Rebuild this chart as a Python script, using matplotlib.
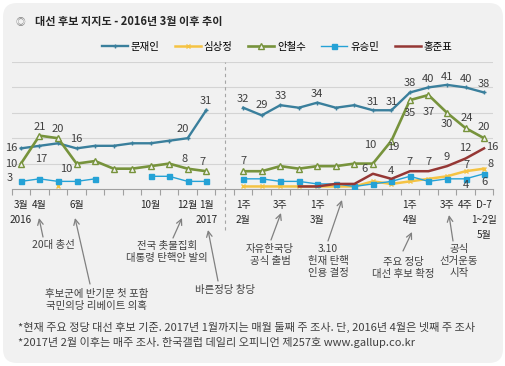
import numpy as np
import matplotlib
matplotlib.use("Agg")
import matplotlib.pyplot as plt
from matplotlib.patches import FancyBboxPatch
from matplotlib.transforms import IdentityTransform

plt.rcParams['font.family'] = ['Noto Sans CJK KR', 'DejaVu Sans']

W, H = 506, 366
nan = np.nan

# x index: 0-10 monthly (2016.3 ~ 2017.1), 11 = gap, 12-25 weekly (2017.2 1주 ~ 5월 1~2일)
moon = [16, 17, 18, 16, 17, 17, 18, 18, 19, 20, 31, nan,
        32, 29, 33, 32, 34, 32, 33, 31, 31, 38, 40, 41, 40, 38]
sim = [nan, nan, 1, nan, nan, nan, nan, nan, nan, nan, nan, nan,
       1, 1, 1, 1, 1, 1, 1, 3, 2, 3, 4, 5, 7, 8]
ahn = [10, 21, 20, 10, 11, 8, 8, 9, 10, 8, 7, nan,
       7, 7, 9, 8, 9, 9, 10, 10, 19, 35, 37, 30, 24, 20]
yoo = [3, 4, 3, 3, 4, nan, nan, 5, 5, 3, 3, nan,
       4, 4, 3, 3, 2, 2, 1, 2, 3, 5, 3, 4, 4, 6]
hong = [nan] * 15 + [1, 1, 2, 2, 6, 4, 7, 7, 9, 12, 16]

names = ["문재인", "심상정", "안철수", "유승민", "홍준표"]

row1 = {0: "3월", 1: "4월", 3: "6월", 7: "10월", 9: "12월", 10: "1월",
        12: "1주", 14: "3주", 16: "1주", 21: "1주", 23: "3주", 24: "4주", 25: "D-7"}
row2 = {0: "2016", 10: "2017", 12: "2월", 16: "3월", 21: "4월", 25: "1~2일"}
row3 = {25: "5월"}

# label offsets in pixels (dx, dy) for the values that carry a number
moon_lbl = {0: (-10, 0), 1: (2, -13), 3: (0, 9), 9: (-5, 9), 10: (0, 9),
            12: (0, 9), 13: (0, 10), 14: (0, 9), 16: (0, 9), 19: (0, 8),
            20: (0, 8), 21: (0, 9), 22: (0, 8), 23: (0, 8), 24: (0, 8), 25: (0, 8)}
ahn_lbl = {0: (-10, 0), 1: (0, 9), 2: (0, 9), 3: (-10, -5), 9: (-3, 10),
           10: (-4, 9), 12: (0, 10), 19: (-3, 19), 20: (2, -6), 21: (0, -13),
           22: (0, -17), 23: (0, -11), 24: (1, 10), 25: (0, 11)}
hong_lbl = {19: (-8, 5), 20: (0, 8), 21: (0, 9), 22: (0, 9), 23: (0, 9),
            24: (0, 11), 25: (8, 1)}
sim_lbl = {24: (1, 6), 25: (7, 5)}
yoo_lbl = {0: (-11, 3), 24: (0, -6), 25: (0, -8)}

c_moon, c_sim, c_ahn, c_yoo, c_hong = "#3a7f9c", "#f5c343", "#77933c", "#25a2d6", "#953735"
bg = "#f1f1f1"
txt = "#404040"

fig = plt.figure(figsize=(W / 100, H / 100), dpi=100, facecolor="white")
fig.add_artist(FancyBboxPatch((3, 3), 500, 360, boxstyle="round,pad=0,rounding_size=14",
                              transform=IdentityTransform(), facecolor=bg,
                              edgecolor="none", zorder=-10))

ax = fig.add_axes([11.7 / W, 1 - 189 / H, (493.3 - 11.7) / W, 127 / H])
ax.set_facecolor("none")
x = np.arange(len(moon))

l_moon, = ax.plot(x, moon, color=c_moon, lw=1.7, marker="+", ms=3.5, mew=1, zorder=3)
l_sim, = ax.plot(x, sim, color=c_sim, lw=1.8, marker="x", ms=3.5, mew=1, zorder=3)
l_yoo, = ax.plot(x, yoo, color=c_yoo, lw=1.0, marker="s", ms=3.6, zorder=4)
l_ahn, = ax.plot(x, ahn, color=c_ahn, lw=1.9, marker="^", ms=4.6, mfc=bg, mew=1, zorder=5)
l_hong, = ax.plot(x, hong, color=c_hong, lw=1.8, zorder=6)

for series, lbl in ((moon, moon_lbl), (ahn, ahn_lbl), (hong, hong_lbl),
                    (sim, sim_lbl), (yoo, yoo_lbl)):
    for i, (dx, dy) in lbl.items():
        ax.annotate(f"{series[i]:g}", (i, series[i]), xytext=(dx, dy),
                    textcoords="offset pixels", ha="center", va="center",
                    fontsize=8, color=txt, zorder=7)

ax.set_xlim(-0.5, len(moon) - 0.5)
ax.set_ylim(0, 50)
ax.set_yticks([10, 20, 30, 40, 50])
ax.set_yticklabels([])
ax.tick_params(axis="y", length=0)
ax.grid(axis="y", color="#d4d4d4", lw=0.8)
ax.set_xticks(np.arange(-0.5, len(moon), 1))
ax.set_xticklabels([])
ax.tick_params(axis="x", length=4, width=0.8, color="#a0a0a0", direction="out")
for s in ("top", "left", "right"):
    ax.spines[s].set_visible(False)
ax.spines["bottom"].set_color("#a0a0a0")
ax.axvline(11, ymin=-0.32, ymax=1, clip_on=False, ls=(0, (3, 3)), color="#a6a6a6", lw=0.8)

for row, dy in ((row1, -16), (row2, -31), (row3, -46)):
    for i, s in row.items():
        ax.annotate(s, (i, 0), xycoords=("data", "axes fraction"), xytext=(0, dy),
                    textcoords="offset pixels", ha="center", va="center",
                    fontsize=7.2, color="#262626")

# event annotations: text, text centre, arrow tail, arrow head (image pixels)
events = [
    ("20대 총선", (53, 245), (43, 237), (39, 218)),
    ("후보군에 반기문 첫 포함\n국민의당 리베이트 의혹", (97, 300), (90, 284), (75, 218)),
    ("전국 촛불집회\n대통령 탄핵안 발의", (167, 252), (173, 238), (182, 218)),
    ("바른정당 창당", (225, 290), (218, 281), (208, 230)),
    ("자유한국당\n공식 출범", (270, 255), (271, 240), (281, 213)),
    ("3.10\n헌재 탄핵\n인용 결정", (328, 261), (328, 241), (342, 200)),
    ("주요 정당\n대선 후보 확정", (403, 268), (403, 251), (412, 232)),
    ("공식\n선거운동\n시작", (459, 261), (453, 241), (449, 215)),
]
for s, (tx, ty), (ax0, ay0), (ax1, ay1) in events:
    fig.text(tx / W, 1 - ty / H, s, ha="center", va="center", fontsize=7.5,
             color=txt, linespacing=1.25)
    ax.annotate("", xy=(ax1, H - ay1), xytext=(ax0, H - ay0), xycoords="figure pixels",
                arrowprops=dict(arrowstyle="->", color="#808080", lw=0.9,
                                shrinkA=0, shrinkB=0))

fig.text(20 / W, 1 - 22 / H, "◎", ha="center", va="center", fontsize=7, color="#7f7f7f")
fig.text(35 / W, 1 - 22 / H, "대선 후보 지지도 - 2016년 3월 이후 추이", ha="left",
         va="center", fontsize=8, fontweight="bold", color="#262626")

fig.legend([l_moon, l_sim, l_ahn, l_yoo, l_hong], names, ncol=5, loc="center left",
           bbox_to_anchor=(102 / W, 1 - 47 / H), frameon=False, fontsize=7.5,
           handlelength=2.5, handletextpad=0.25, columnspacing=1.5, numpoints=1,
           borderaxespad=0, borderpad=0)

fig.text(18 / W, 1 - 327 / H,
         "*현재 주요 정당 대선 후보 기준. 2017년 1월까지는 매월 둘째 주 조사. 단, 2016년 4월은 넷째 주 조사",
         ha="left", va="center", fontsize=8, color=txt)
fig.text(18 / W, 1 - 343 / H,
         "*2017년 2월 이후는 매주 조사. 한국갤럽 데일리 오피니언 제257호 www.gallup.co.kr",
         ha="left", va="center", fontsize=8, color=txt)

fig.savefig("out.png", dpi=100, facecolor="white")
